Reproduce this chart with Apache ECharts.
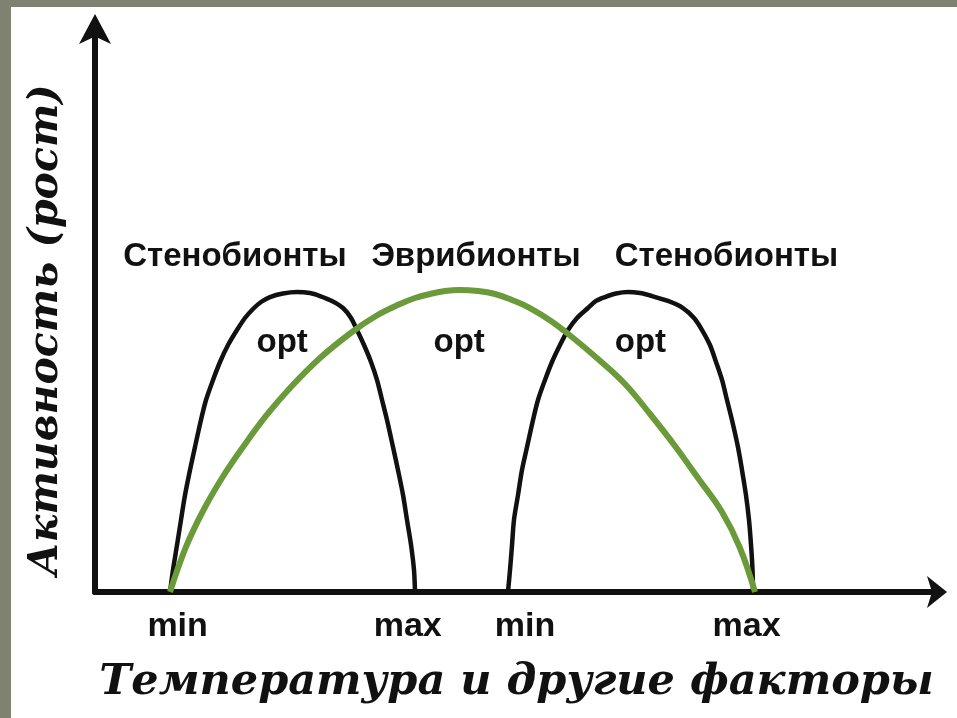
<!DOCTYPE html>
<html>
<head>
<meta charset="utf-8">
<script src="https://cdn.jsdelivr.net/npm/echarts@6/dist/echarts.min.js"></script>
<style>
	body { margin: 0; background: #7f8270; }
	#chart { position: absolute; left: 11px; top: 7px; width: 946px; height: 711px; background: #fff; }
</style>
</head>
<body>
<div id="chart"></div>
<script>
// 左侧狭适种（Стенобионты）曲线
const stenoLeft = [
	[8.90, 0], [9.25, 3.90], [9.73, 8.33], [10.20, 12.77], [10.68, 17.20], [11.27, 21.63],
	[11.86, 25.71], [12.57, 30.50], [13.17, 34.04], [14.00, 37.59], [14.83, 40.78], [15.78, 43.79],
	[16.84, 46.45], [17.79, 48.58], [18.74, 50.18], [19.69, 51.42], [20.76, 52.30], [22.30, 52.93],
	[23.96, 53.19], [25.50, 53.01], [26.69, 52.48], [28.11, 51.60], [29.42, 50.35], [30.37, 48.58],
	[31.08, 46.45], [31.91, 43.79], [32.74, 40.78], [33.45, 37.59], [34.05, 34.04], [34.64, 30.50],
	[35.35, 25.71], [35.94, 21.63], [36.54, 17.20], [37.01, 12.77], [37.49, 8.33], [37.84, 3.90], [37.96, 0]
];
// 右侧狭适种曲线
const stenoRight = [
	[48.99, 0], [49.23, 3.90], [49.47, 8.33], [49.70, 12.77], [50.18, 17.20], [50.65, 21.63],
	[51.25, 25.71], [51.96, 30.50], [52.55, 34.04], [53.38, 37.59], [54.21, 40.78], [55.16, 43.79],
	[56.11, 46.45], [57.18, 48.58], [58.48, 50.35], [59.43, 51.60], [60.50, 52.30], [61.80, 52.93],
	[63.23, 53.19], [64.65, 53.01], [65.84, 52.57], [67.97, 51.60], [69.75, 50.35], [71.06, 48.58],
	[72.01, 46.45], [72.95, 43.79], [73.67, 40.78], [74.38, 37.59], [74.97, 34.04], [75.56, 30.50],
	[76.27, 25.71], [76.75, 21.63], [77.22, 17.20], [77.58, 12.77], [77.82, 8.33], [78.00, 3.90], [78.06, 0]
];
// 广适种（Эврибионты）曲线
const eury = [
	[8.90, 0], [10.79, 7.98], [12.81, 14.36], [15.07, 20.21], [17.56, 25.71], [20.28, 31.21],
	[23.13, 36.17], [26.69, 41.49], [30.49, 46.10], [33.33, 48.94], [36.18, 51.06], [37.96, 52.13],
	[39.74, 52.84], [41.52, 53.37], [43.30, 53.55], [45.43, 53.37], [47.45, 52.84], [49.47, 51.77],
	[51.60, 50.35], [54.09, 48.05], [56.58, 45.21], [59.67, 41.31], [62.87, 36.88], [65.84, 31.56],
	[68.80, 25.89], [71.53, 20.21], [74.38, 14.18], [76.51, 7.80], [78.29, 0]
];
// 曲线上方标签
const groupNames = ['Стенобионты', 'Эврибионты', 'Стенобионты'];
const groupX = [16.6, 45.2, 74.9];
const groupY = 59.4;
const optX = [22.2, 43.2, 64.7];
const optY = 44.1;
// x轴刻度标签
const tickValues = [9.8, 37.1, 51.0, 77.3];
const tickLabels = ['min', 'max', 'min', 'max'];

const serifFont = '"DejaVu Serif", serif';
const sansFont = '"Liberation Sans", Arial, sans-serif';

let chart = echarts.init(document.getElementById('chart'));
chart.setOption({
	animation: false,
	grid: { left: 84, right: 19, top: 21, bottom: 126, outerBoundsMode: 'none', containLabel: false },
	xAxis: {
		type: 'value', min: 0, max: 100,
		name: 'Температура и другие факторы',
		nameLocation: 'middle',
		nameGap: 69,
		nameTextStyle: { fontFamily: serifFont, fontStyle: 'italic', fontWeight: 'bold', fontSize: 43, color: '#111' },
		axisLine: { lineStyle: { color: '#111', width: 6 }, symbol: ['none', 'arrow'], symbolSize: [24, 20], symbolOffset: [0, 9] },
		axisTick: { show: false },
		splitLine: { show: false },
		axisLabel: {
			customValues: tickValues,
			formatter: (v) => tickLabels[tickValues.indexOf(v)] || '',
			margin: 18,
			fontFamily: sansFont, fontWeight: 'bold', fontSize: 34, color: '#111'
		}
	},
	yAxis: {
		type: 'value', min: 0, max: 100,
		name: 'Активность (рост)',
		nameLocation: 'middle',
		nameGap: 28,
		nameTextStyle: { fontFamily: serifFont, fontStyle: 'italic', fontWeight: 'bold', fontSize: 41, color: '#111', padding: [0, 40, 0, 0] },
		axisLine: { show: true, lineStyle: { color: '#111', width: 6 }, symbol: ['none', 'arrow'], symbolSize: [24, 30], symbolOffset: [0, 14] },
		axisTick: { show: false },
		splitLine: { show: false },
		axisLabel: { show: false }
	},
	series: [
		{ type: 'line', data: stenoLeft, smooth: 0.3, showSymbol: false, lineStyle: { color: '#111', width: 4.5 } },
		{ type: 'line', data: stenoRight, smooth: 0.3, showSymbol: false, lineStyle: { color: '#111', width: 4.5 } },
		{ type: 'line', data: eury, smooth: 0.4, showSymbol: false, z: 3, lineStyle: { color: '#6a9a3a', width: 6 } },
		{
			type: 'scatter', symbolSize: 0, silent: true, clip: false,
			itemStyle: { opacity: 1 },
			data: groupNames.map((n, i) => ({ value: [groupX[i], groupY], name: n }))
				.concat(optX.map(x => ({ value: [x, optY], name: 'opt' }))),
			label: {
				show: true, position: 'inside', formatter: '{b}', opacity: 1,
				fontFamily: sansFont, fontWeight: 'bold', fontSize: 33, color: '#111'
			}
		}
	]
});
</script>
</body>
</html>
